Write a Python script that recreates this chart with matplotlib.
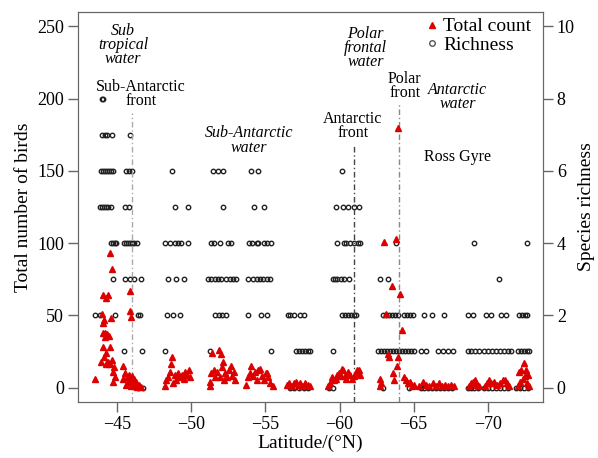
import numpy as np
import matplotlib
matplotlib.use('Agg')
import matplotlib.pyplot as plt

plt.rcParams['font.family'] = ['Liberation Serif', 'DejaVu Serif']
plt.rcParams['axes.unicode_minus'] = True

# ── Data ───────────────────────────────────────────────────
# total bird counts per station (latitude, count)
count_lat = [
    -43.52, -43.92, -43.99, -44.06, -44.06, -44.06, -44.06, -44.2, -44.26, -44.26,
    -44.33, -44.4, -44.4, -44.13, -44.5, -44.5, -44.5, -44.6, -44.67, -44.67,
    -44.74, -44.74, -44.8, -44.87, -44.2, -44.46, -44.13, -44.26,
    -45.4, -45.4, -45.54, -45.6, -45.67, -45.74, -45.8, -45.88, -45.88, -45.94,
    -45.88, -45.94, -46.0, -46.08, -46.15, -46.2, -46.28, -46.35, -46.5, -46.62,
    -48.24, -48.3, -48.45, -48.58, -48.65, -48.72, -48.78, -48.92, -49.0, -49.12,
    -49.26, -49.4, -49.53, -49.6, -49.73, -49.86, -49.93,
    -51.28, -51.28, -51.35, -51.42, -51.55, -51.62, -51.75, -51.89, -51.96, -52.03,
    -52.1, -52.16, -52.23, -52.3, -52.44, -52.57, -52.7, -52.77, -52.9, -52.97,
    -53.72, -53.85, -53.99, -54.05, -54.19, -54.33, -54.46, -54.53, -54.66, -54.8,
    -54.93, -55.07, -55.14, -55.2, -55.34, -55.48,
    -56.49, -56.62, -56.76, -56.9, -57.03, -57.24, -57.36, -57.5, -57.7, -57.9, -58.04,
    -59.19, -59.33, -59.46, -59.6, -59.73, -59.86, -59.93, -60.07, -60.14, -60.2,
    -60.34, -60.41, -60.55, -60.68, -60.82, -60.95, -61.08, -61.15, -61.28, -61.4,
    -62.7, -62.7, -62.78, -62.98, -63.1, -63.25, -63.32, -63.52, -63.6, -63.65,
    -63.78, -63.85, -63.92, -63.92, -64.05, -64.19, -64.32, -64.46, -64.6, -64.73,
    -64.87, -65.0,
    -65.34, -65.61, -65.82, -66.02, -66.29, -66.49, -66.69, -66.9, -67.1, -67.3,
    -67.5, -67.7,
    -68.72, -68.86, -69.0, -69.13, -69.26, -69.4,
    -69.8, -69.93, -70.07, -70.2, -70.41, -70.61, -70.82, -71.02, -71.15, -71.28, -71.42,
    -72.03, -72.1, -72.17, -72.24, -72.37, -72.44, -72.5, -72.57, -72.64, -72.7, -72.77,
]
count_val = [
    6, 18, 51, 64, 45, 38, 28, 38, 62, 24,
    37, 64, 18, 47, 93, 28, 16, 48, 82, 19,
    11, 4, 14, 7, 35, 36, 21, 16,
    6, 15, 10, 2, 7, 4, 9, 67, 53, 49,
    5, 1, 8, 3, 6, 1, 4, 0.5, 2, 0.5,
    1, 5, 7, 11, 16, 21, 3, 9, 5, 10,
    7, 9, 6, 11, 9, 12, 7,
    1, 4, 10, 24, 12, 7, 11, 26, 7, 23,
    14, 18, 5, 10, 7, 12, 15, 8, 11, 5,
    2, 7, 10, 15, 8, 11, 5, 12, 13, 8,
    5, 10, 10, 7, 3, 1,
    2, 3, 1, 3, 4, 2, 3, 1, 3, 2, 1,
    1, 3, 7, 5, 6, 9, 10, 8, 13, 12,
    8, 6, 11, 9, 6, 8, 10, 12, 12, 9,
    1, 6, 3, 101, 51, 23, 21, 70, 10, 5,
    103, 15, 21, 180, 65, 40, 7, 5, 3, 4,
    1, 2,
    1, 4, 2, 1, 3, 1, 3, 1, 2, 1,
    2, 1,
    1, 3, 4, 5, 2, 1,
    1, 3, 5, 3, 4, 2, 3, 5, 5, 3, 1,
    1, 11, 4, 12, 6, 17, 8, 12, 3, 9, 1,
]

# species richness per station, grouped by richness level
rich0_lat = [-46.42, -46.76, -56.69, -56.96, -57.24, -57.57, -57.9, -59.26, -59.53,
             -62.9, -64.66, -65.47, -65.68, -65.95, -66.22, -66.49, -66.76, -67.03,
             -67.3, -67.57, -68.65, -68.86, -69.06, -69.33, -69.73, -70.0, -70.27,
             -70.55, -70.82, -71.08, -71.35, -71.9, -72.17, -72.44, -72.7]
rich1_lat = [-45.47, -46.69, -48.24, -51.28, -55.4, -57.03, -57.24, -57.44, -57.64,
             -57.84, -58.04, -59.53, -62.57, -62.78, -62.98, -63.18, -63.38, -63.6,
             -63.78, -63.99, -64.19, -64.39, -64.6, -64.8, -65.0, -65.47, -65.82,
             -66.63, -66.96, -67.3, -67.64, -68.65, -68.86, -69.13, -69.4, -69.73,
             -70.0, -70.27, -70.55, -70.82, -71.08, -71.35, -71.56, -72.03, -72.24,
             -72.44, -72.64, -72.77]
rich2_lat = [-43.52, -43.85, -44.87, -46.42, -46.55, -48.38, -48.78, -49.26, -51.62,
             -51.89, -52.1, -52.37, -53.85, -54.73, -55.14, -56.55, -56.69, -56.9,
             -57.36, -57.57, -60.14, -60.34, -60.55, -60.75, -60.95, -61.08, -62.9,
             -63.1, -63.32, -63.52, -63.72, -63.92, -64.32, -64.53, -64.73, -64.94,
             -65.68, -66.22, -67.03, -68.65, -69.0, -69.87, -70.2, -70.88, -71.22,
             -72.1, -72.3, -72.5, -72.64]
rich3_lat = [-44.74, -45.54, -45.88, -46.15, -46.62, -48.45, -49.0, -49.53, -51.15,
             -51.35, -51.62, -51.82, -52.03, -52.37, -52.64, -52.84, -53.04, -53.85,
             -54.19, -54.46, -54.66, -54.86, -55.14, -55.34, -59.53, -59.66, -59.86,
             -60.07, -60.27, -60.61, -62.7, -63.25, -70.74]
rich4_lat = [-44.6, -44.74, -44.87, -44.93, -45.47, -45.6, -45.74, -45.88, -46.0,
             -46.15, -46.35, -48.24, -48.58, -48.92, -49.12, -49.33, -49.8, -51.35,
             -51.55, -51.96, -52.5, -52.7, -53.92, -54.12, -54.4, -54.53, -54.93,
             -55.14, -55.4, -59.86, -60.27, -60.41, -60.68, -60.95, -61.22, -61.4,
             -63.78, -69.06, -72.64]
rich5_lat = [-43.85, -43.99, -44.12, -44.26, -44.4, -44.6, -45.54, -45.8, -48.92,
             -49.8, -52.16, -54.26, -54.93, -59.73, -60.2, -60.55, -61.0, -61.28]
rich6_lat = [-43.92, -44.06, -44.2, -44.33, -44.46, -44.6, -44.73, -45.6, -45.8,
             -46.0, -48.72, -51.49, -51.82, -52.16, -54.05, -54.53, -60.14]
rich7_lat = [-43.97, -44.15, -44.3, -44.65, -45.88]
rich8_lat = [-43.95, -44.05]

# oceanographic fronts: latitude, top of line (left-axis units)
front_lat = [-46.0, -61.0, -64.0]
front_top = [190, 168, 197]
front_color = ['#aaaaaa', '#444444', '#888888']

# ── Plot ───────────────────────────────────────────────────
rich_groups = [rich0_lat, rich1_lat, rich2_lat, rich3_lat, rich4_lat,
               rich5_lat, rich6_lat, rich7_lat, rich8_lat]
rich_lat = np.concatenate([np.array(g) for g in rich_groups])
rich_val = np.concatenate([np.full(len(g), lvl) for lvl, g in enumerate(rich_groups)])

fig = plt.figure(figsize=(5.98, 4.58), dpi=100)
ax = fig.add_axes([0.1304, 0.1223, 0.7776, 0.8515])
ax2 = ax.twinx()

for lat, top, col in zip(front_lat, front_top, front_color):
    ax.plot([lat, lat], [-10, top], color=col, lw=1.0, ls=(0, (4, 2, 1, 2)), zorder=1)

ax2.plot(rich_lat, rich_val, ls='none', marker='o', ms=3.2, mfc='none',
         mec='#222222', mew=1.0, zorder=2)
ax.plot(count_lat, count_val, ls='none', marker='^', ms=5.0, color='#dd0000',
        mec='#dd0000', zorder=3)
ax.set_zorder(ax2.get_zorder() + 1)
ax.patch.set_visible(False)

ax.set_xlim(-42.36, -73.72)
ax.set_ylim(-10, 260)
ax2.set_ylim(-0.4, 10.4)
ax.set_xticks([-45, -50, -55, -60, -65, -70])
ax.set_yticks([0, 50, 100, 150, 200, 250])
ax2.set_yticks([0, 2, 4, 6, 8, 10])

for a in (ax, ax2):
    a.tick_params(labelsize=13, length=7, width=1, color='#666666', pad=3)
    for s in a.spines.values():
        s.set_color('#666666')

ax.set_xlabel('Latitude/(°N)', fontsize=14, labelpad=1)
ax.set_ylabel('Total number of birds', fontsize=14, labelpad=4)
ax2.set_ylabel('Species richness', fontsize=14, labelpad=2)

# water mass / front labels
it = dict(fontsize=11.5, style='italic', ha='center', va='center', linespacing=0.85)
nt = dict(fontsize=11.5, ha='center', va='center', linespacing=0.85)
ax.text(-45.4, 237, 'Sub\ntropical\nwater', **it)
ax.text(-46.6, 203, 'Sub-Antarctic\nfront', **nt)
ax.text(-53.9, 171, 'Sub-Antarctic\nwater', **it)
ax.text(-60.9, 181, 'Antarctic\nfront', **nt)
ax.text(-61.76, 235, 'Polar\nfrontal\nwater', **it)
ax.text(-64.4, 208.5, 'Polar\nfront', **nt)
ax.text(-67.97, 201, 'Antarctic\nwater', **it)
ax.text(-67.97, 159.5, 'Ross Gyre', **nt)

h1 = plt.Line2D([], [], ls='none', marker='^', ms=5, color='#dd0000')
h2 = plt.Line2D([], [], ls='none', marker='o', ms=4, mfc='none', mec='#555555')
ax.legend([h1, h2], ['Total count', 'Richness'], loc='upper right',
          bbox_to_anchor=(1.0, 1.015), frameon=False, fontsize=14,
          handletextpad=0.1, labelspacing=0.05, handlelength=1.0, borderaxespad=0.2)

plt.savefig('out.png', dpi=100)
